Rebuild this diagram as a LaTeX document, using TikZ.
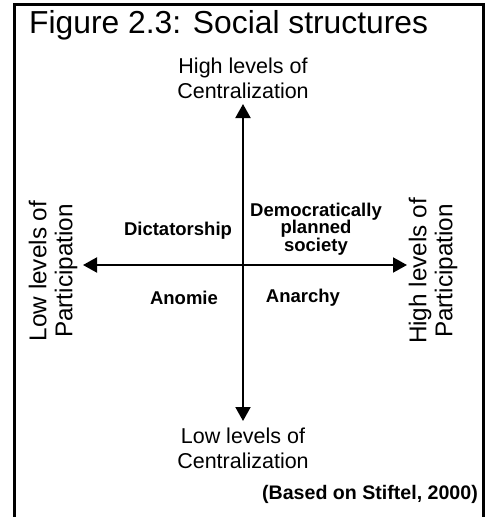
\documentclass[tikz,border=0pt]{standalone}
\usepackage{fontspec}
\setmainfont{Liberation Sans}
\usetikzlibrary{arrows.meta}
\begin{document}
\begin{tikzpicture}[x=1pt,y=-1pt,
  axis/.style={line width=2pt,-{Triangle[length=14pt,width=15pt]}},
  title/.style={font=\fontsize{31.8}{34}\selectfont,anchor=west,inner sep=0pt},
  endlabel/.style={font=\fontsize{21.5}{25}\selectfont,align=center,inner sep=0pt},
  sidelabel/.style={font=\fontsize{24.3}{26}\selectfont,align=center,inner sep=0pt,rotate=90},
  quad/.style={font=\bfseries\fontsize{18.5}{17.5}\selectfont,align=center,inner sep=0pt},
  credit/.style={font=\bfseries\fontsize{19.6}{22}\selectfont,anchor=east,inner sep=0pt}]
  \useasboundingbox (0,0) rectangle (488,517);
  \fill[white] (0,0) rectangle (488,517);
  % frame, open at the bottom edge
  \draw[line width=3pt] (14.5,530) -- (14.5,4.5) -- (483,4.5) -- (483,530);
  \node[title] (ttl) at (29,25) {Figure 2.3: Social structures};

  % axes
  \coordinate (o) at (243,265);
  \coordinate (top) at (243,104);
  \coordinate (bot) at (243,421);
  \coordinate (lft) at (83,265);
  \coordinate (rgt) at (407,265);
  \draw[axis] (o) -- (top);
  \draw[axis] (o) -- (bot);
  \draw[axis] (o) -- (lft);
  \draw[axis] (o) -- (rgt);

  % axis end labels
  \node[endlabel] (hc) at (243,78) {High levels of\\Centralization};
  \node[endlabel] (lc) at (243,448) {Low levels of\\Centralization};
  \node[sidelabel] (lp) at (53,271) {Low levels of\\Participation};
  \node[sidelabel] (hp) at (433,271) {High levels of\\Participation};

  % quadrant labels
  \node[quad] (dic) at (178,231) {Dictatorship};
  \node[quad] (dem) at (316,229) {Democratically\\planned\\society};
  \node[quad] (ano) at (184,298) {Anomie};
  \node[quad] (ana) at (303,298) {Anarchy};

  \node[credit] (src) at (478,494) {(Based on Stiftel, 2000)};
\end{tikzpicture}
\end{document}
